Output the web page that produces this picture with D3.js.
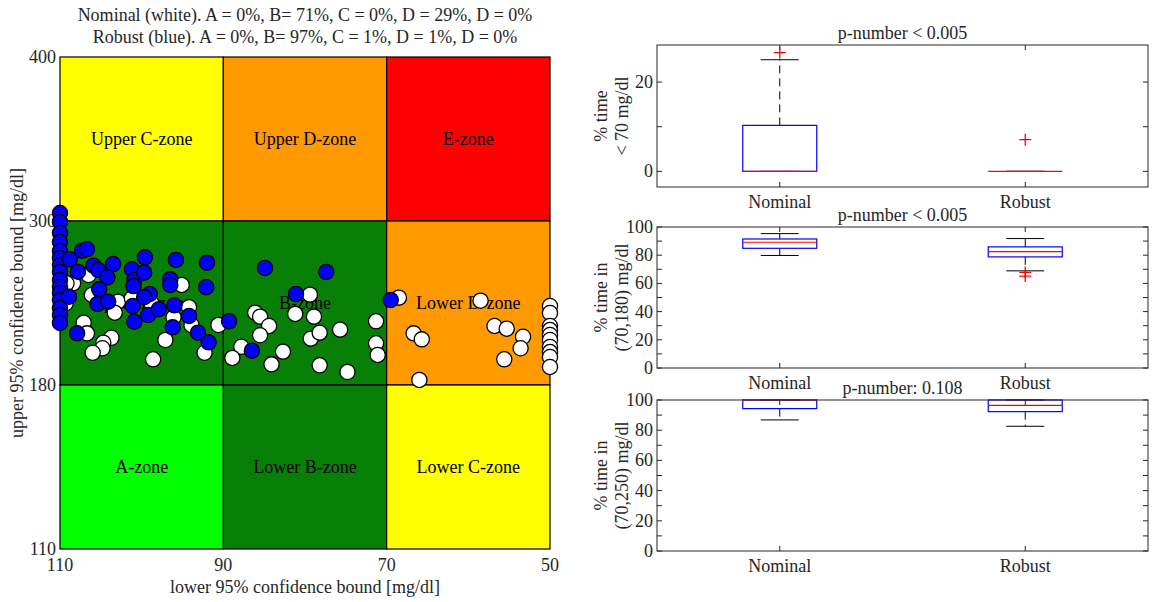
<!DOCTYPE html>
<meta charset="utf-8">
<head>
  <script src="https://cdn.jsdelivr.net/npm/d3@7"></script>
  <style>
    body { margin: 0; background: #fff; }
    svg text { font-family: "Liberation Serif", "DejaVu Serif", serif; fill: #262626; font-size: 18px; }
  </style>
</head>
<body>
<script type="text/javascript">

// CVGA data: lower / upper 95% bounds per patient
var gridXTicks = [110, 90, 70, 50];
var gridYTicks = [110, 180, 300, 400];

var zoneLabels = [
  ["Upper C-zone", "Upper D-zone", "E-zone"],
  ["Upper B-zone", "B-zone", "Lower D-zone"],
  ["A-zone", "Lower B-zone", "Lower C-zone"]
];
var zoneColors = [
  ["#ffff00", "#ff9900", "#ff0000"],
  ["#088008", "#088008", "#ff9900"],
  ["#00ff00", "#088008", "#ffff00"]
];

var nominalLow = [107.1, 106.7, 103.7, 104.7, 104.8, 106.0, 108.4, 102.9, 103.3, 106.5, 95.1, 94.2, 96.1, 97.1, 98.6, 92.3, 90.6, 93.9, 106.1, 101.2, 98.8, 109.3, 109.2,
  79.4, 81.2, 78.9, 86.1, 85.5, 84.4, 85.5, 87.8, 88.9, 82.7, 84.1, 79.3, 78.2, 75.7, 78.2, 74.8, 71.3, 71.3, 71.1,
  68.5, 58.5, 66.7, 65.7, 56.8, 55.3, 53.3, 53.6, 55.6, 66.0, 50, 50, 50, 50, 50, 50, 50, 50, 50, 50];
var nominalHigh = [225.6, 217.8, 214.6, 211.0, 206.9, 203.6, 254.4, 241.0, 232.9, 260.5, 253.2, 236.9, 229.5, 212.9, 198.8, 203.6, 223.9, 223.9, 245.9, 243.4, 239.8, 239.8, 254.4,
  246.1, 232.0, 230.0, 232.9, 230.0, 223.2, 216.4, 208.0, 199.8, 204.4, 195.1, 213.9, 218.3, 220.5, 194.4, 189.5, 226.6, 210.5, 202.0,
  243.9, 241.7, 217.8, 213.4, 223.2, 221.2, 215.3, 206.9, 198.8, 183.7, 237.8, 232.7, 223.2, 220.2, 216.6, 212.9, 207.8, 204.1, 200.5, 193.2];

var robustLow = [110, 110, 110, 110, 110, 110, 110, 110, 110, 110, 110, 110, 110, 110, 110,
  108.8, 107.3, 106.7, 107.8, 108.9, 107.9, 105.9, 105.3, 103.5, 104.2, 105.2, 105.4, 104.1, 101.2, 100.9, 101.0, 99.6, 99.7, 99.0, 99.7, 101.1, 100.9, 99.2, 97.9,
  96.5, 96.5, 95.8, 96.0, 96.2, 94.2, 93.1, 91.8, 92.0, 92.1, 84.9, 77.4, 81.1, 89.3, 86.5, 69.5];
var robustHigh = [304.9, 299.3, 291.2, 284.6, 278.0, 272.9, 267.8, 262.7, 256.8, 251.7, 247.3, 242.2, 236.3, 231.2, 225.4,
  272.0, 278.3, 279.3, 262.9, 244.6, 217.8, 267.3, 264.1, 268.5, 258.8, 250.0, 239.3, 241.0, 264.7, 256.8, 252.4, 273.4, 262.2, 246.6, 244.2, 237.8, 226.3, 231.2, 235.4,
  257.3, 253.2, 271.5, 238.3, 222.2, 230.5, 218.3, 211.2, 269.5, 251.5, 265.6, 262.7, 246.6, 226.6, 205.1, 242.2];

var titleLines = [
  "Nominal (white). A = 0%, B= 71%, C = 0%, D = 29%, D = 0%",
  "Robust (blue). A = 0%, B= 97%, C = 1%, D = 1%, D = 0%"
];

// box plot stats: [lower whisker, q1, median, q3, upper whisker]
var groups = ["Nominal", "Robust"];
var hypoNominal = [0, 0, 0, 10.3, 25.0];
var hypoRobust = [0, 0, 0, 0, 0];
var hypoOutNominal = [26.6];
var hypoOutRobust = [7.1];
var rangeNominal = [79.8, 84.9, 89.2, 91.5, 95.3];
var rangeRobust = [68.9, 78.8, 82.6, 85.9, 91.8];
var rangeOutNominal = [];
var rangeOutRobust = [67.8, 65.2];
var wideNominal = [86.8, 94.3, 100, 100, 100];
var wideRobust = [82.6, 92.3, 96.5, 100, 100];
var wideOutNominal = [];
var wideOutRobust = [];

var w = 1153, h = 602;
var svg = d3.select("body").append("svg").attr("width", w).attr("height", h);

// ---------- left: CVGA ----------
var xz = d3.scaleLinear().domain([110, 50]).range([60, 550]);
var yz = d3.scaleLinear().domain(gridYTicks).range([549, 385, 221, 57]);

var cvga = svg.append("g");
var yRows = [[300, 400], [180, 300], [110, 180]];
var xCols = [[110, 90], [90, 70], [70, 50]];

yRows.forEach(function(r, i) {
  xCols.forEach(function(c, j) {
    cvga.append("rect")
      .attr("x", xz(c[0])).attr("y", yz(r[1]))
      .attr("width", xz(c[1]) - xz(c[0])).attr("height", yz(r[0]) - yz(r[1]))
      .attr("fill", zoneColors[i][j])
      .attr("stroke", "#000").attr("stroke-width", 1.2);
    cvga.append("text")
      .attr("x", (xz(c[0]) + xz(c[1])) / 2)
      .attr("y", (yz(r[0]) + yz(r[1])) / 2 + 6)
      .attr("text-anchor", "middle")
      .style("fill", "#000")
      .text(zoneLabels[i][j]);
  });
});

// ticks labels
cvga.selectAll(".xt").data(gridXTicks).enter().append("text")
  .attr("x", function(d) { return xz(d); }).attr("y", 571)
  .attr("text-anchor", "middle")
  .text(function(d) { return d; });
cvga.selectAll(".yt").data(gridYTicks).enter().append("text")
  .attr("x", 56).attr("y", function(d) { return yz(d) + 6; })
  .attr("text-anchor", "end")
  .text(function(d) { return d; });

cvga.append("text").attr("x", 305).attr("y", 593).attr("text-anchor", "middle")
  .text("lower 95% confidence bound [mg/dl]");
cvga.append("text").attr("transform", "translate(23,303) rotate(-90)").attr("text-anchor", "middle")
  .text("upper 95% confidence bound [mg/dl]");

cvga.selectAll(".tl").data(titleLines).enter().append("text")
  .attr("x", 305).attr("y", function(d, i) { return 21 + i * 22; })
  .attr("text-anchor", "middle")
  .text(function(d) { return d; });

// points: nominal first, robust on top
function drawPoints(lo, hi, color) {
  cvga.append("g").selectAll("circle")
    .data(lo.map(function(d, i) { return [d, hi[i]]; }))
    .enter().append("circle")
    .attr("cx", function(d) { return xz(d[0]); })
    .attr("cy", function(d) { return yz(d[1]); })
    .attr("r", 7.6)
    .attr("fill", color)
    .attr("stroke", "#000").attr("stroke-width", 1.3);
}
drawPoints(nominalLow, nominalHigh, "#ffffff");
drawPoints(robustLow, robustHigh, "#0000ff");

// ---------- right: box plots ----------
var panels = [
  { top: 45, bottom: 187, domain: [-3.5, 28.3], ticks: [0, 10, 20], labels: [0, 20],
    title: "p-number < 0.005", ylab: ["% time", "< 70 mg/dl"], stats: [hypoNominal, hypoRobust], outs: [hypoOutNominal, hypoOutRobust] },
  { top: 227, bottom: 368, domain: [0, 100], ticks: d3.range(0, 101, 10), labels: d3.range(0, 101, 20),
    title: "p-number < 0.005", ylab: ["% time in", "(70,180) mg/dl"], stats: [rangeNominal, rangeRobust], outs: [rangeOutNominal, rangeOutRobust] },
  { top: 400, bottom: 551, domain: [0, 100], ticks: d3.range(0, 101, 10), labels: d3.range(0, 101, 20),
    title: "p-number: 0.108", ylab: ["% time in", "(70,250) mg/dl"], stats: [wideNominal, wideRobust], outs: [wideOutNominal, wideOutRobust] }
];

var bx0 = 657, bx1 = 1148;
var xb = d3.scaleLinear().domain([0.5, 2.5]).range([bx0, bx1]);
var boxHalf = 37, capHalf = 19;

panels.forEach(function(p) {
  var g = svg.append("g");
  var y = d3.scaleLinear().domain(p.domain).range([p.bottom, p.top]);

  // ticks (inside, both sides)
  p.ticks.forEach(function(t) {
    g.append("line").attr("x1", bx0).attr("x2", bx0 + 5).attr("y1", y(t)).attr("y2", y(t)).attr("stroke", "#262626");
    g.append("line").attr("x1", bx1).attr("x2", bx1 - 5).attr("y1", y(t)).attr("y2", y(t)).attr("stroke", "#262626");
  });
  p.labels.forEach(function(t) {
    g.append("text").attr("x", bx0 - 4).attr("y", y(t) + 6).attr("text-anchor", "end")
      .text(t);
  });
  groups.forEach(function(name, i) {
    var cx = xb(i + 1);
    g.append("line").attr("x1", cx).attr("x2", cx).attr("y1", p.bottom).attr("y2", p.bottom - 5).attr("stroke", "#262626");
    g.append("line").attr("x1", cx).attr("x2", cx).attr("y1", p.top).attr("y2", p.top + 5).attr("stroke", "#262626");
    g.append("text").attr("x", cx).attr("y", p.bottom + 21).attr("text-anchor", "middle")
      .text(name);

    var s = p.stats[i];
    // whiskers
    g.append("line").attr("x1", cx).attr("x2", cx).attr("y1", y(s[3])).attr("y2", y(s[4]))
      .attr("stroke", "#000").attr("stroke-dasharray", "8,5");
    g.append("line").attr("x1", cx).attr("x2", cx).attr("y1", y(s[1])).attr("y2", y(s[0]))
      .attr("stroke", "#000").attr("stroke-dasharray", "8,5");
    g.append("line").attr("x1", cx - capHalf).attr("x2", cx + capHalf).attr("y1", y(s[4])).attr("y2", y(s[4])).attr("stroke", "#000");
    g.append("line").attr("x1", cx - capHalf).attr("x2", cx + capHalf).attr("y1", y(s[0])).attr("y2", y(s[0])).attr("stroke", "#000");
    // box
    g.append("rect").attr("x", cx - boxHalf).attr("y", y(s[3]))
      .attr("width", boxHalf * 2).attr("height", Math.max(0, y(s[1]) - y(s[3])))
      .attr("fill", "none").attr("stroke", "#0000ff").attr("stroke-width", 1.2);
    g.append("line").attr("x1", cx - boxHalf).attr("x2", cx + boxHalf).attr("y1", y(s[2])).attr("y2", y(s[2]))
      .attr("stroke", "#ff0000").attr("stroke-width", 1.2);
    // outliers
    p.outs[i].forEach(function(o) {
      g.append("path").attr("d", "M" + (cx - 6) + "," + y(o) + "h12M" + cx + "," + (y(o) - 6) + "v12")
        .attr("stroke", "#ff0000").attr("stroke-width", 1.3);
    });
  });

  g.append("rect").attr("x", bx0).attr("y", p.top).attr("width", bx1 - bx0).attr("height", p.bottom - p.top)
    .attr("fill", "none").attr("stroke", "#262626").attr("stroke-width", 1);

  g.append("text").attr("x", (bx0 + bx1) / 2).attr("y", p.top - 6).attr("text-anchor", "middle")
    .text(p.title);

  var my = (p.top + p.bottom) / 2;
  g.append("text").attr("transform", "translate(607," + my + ") rotate(-90)").attr("text-anchor", "middle")
    .text(p.ylab[0]);
  g.append("text").attr("transform", "translate(628," + my + ") rotate(-90)").attr("text-anchor", "middle")
    .text(p.ylab[1]);
});

</script>
</body>
